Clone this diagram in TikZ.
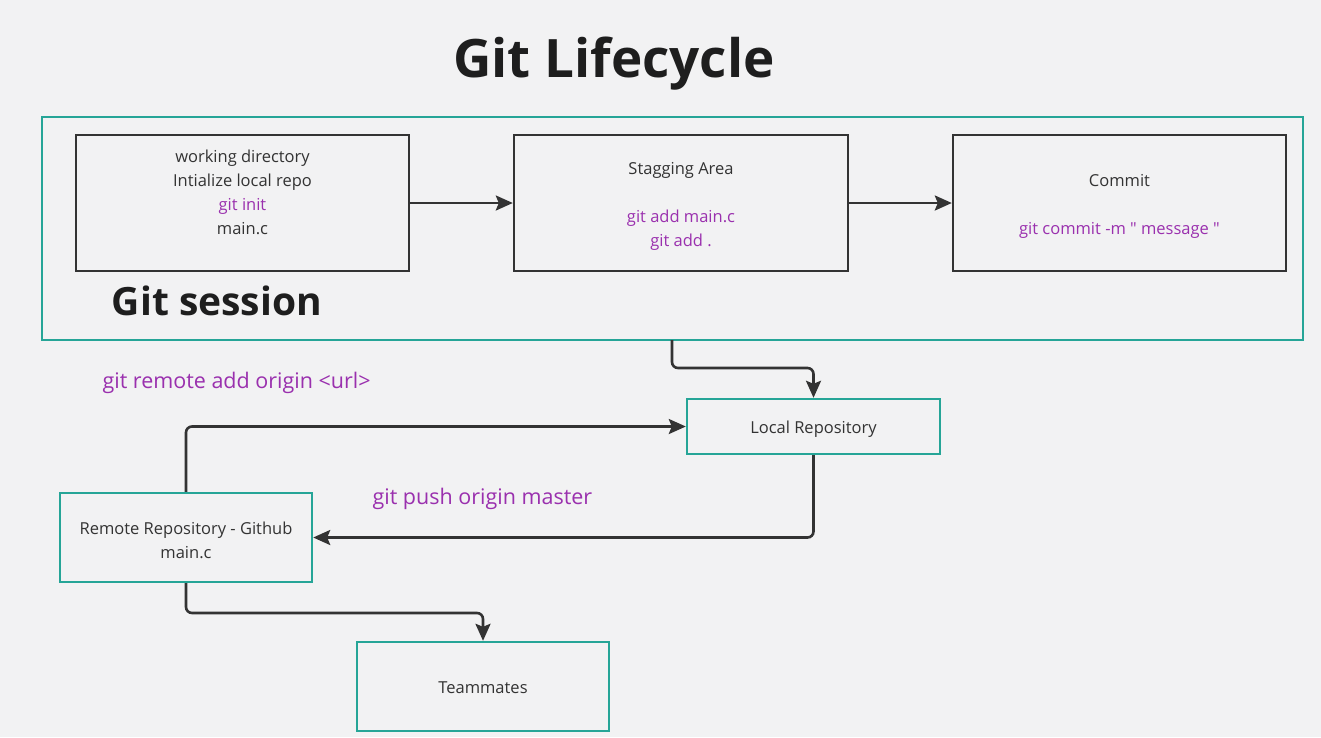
\documentclass[tikz,border=0pt]{standalone}
\usepackage{fontspec}
\setmainfont{Open Sans}
\usetikzlibrary{arrows.meta}
\definecolor{bgc}{HTML}{F2F2F3}
\definecolor{teal1}{HTML}{26A597}
\definecolor{purp}{HTML}{9A30AE}
\definecolor{ink}{HTML}{333333}
\definecolor{head}{HTML}{1E1E1E}
\tikzset{
  x=1pt, y=-1pt,
  darkbox/.style={draw=ink, line width=2.4pt, inner sep=0pt},
  tealbox/.style={draw=teal1, line width=2.4pt, inner sep=0pt},
  boxtext/.style={text=ink, align=center, font=\fontsize{16.5}{24}\selectfont},
  conn/.style={draw=ink, line width=2.6pt, rounded corners=6pt, -{Stealth[length=17pt,width=15pt,inset=3pt]}},
  cmd/.style={text=purp},
}
\begin{document}
\begin{tikzpicture}
\fill[bgc] (0,0) rectangle (1321,737);
\useasboundingbox (0,0) rectangle (1321,737);

\node[text=head, font=\fontsize{53}{58}\selectfont\bfseries] (title) at (614,64) {Git Lifecycle};

\node[tealbox, minimum width=1261pt, minimum height=223pt] (outer) at (672.5,228.5) {};
\node[darkbox, minimum width=333pt, minimum height=136pt] (b1) at (242.5,203) {};
\node[darkbox, minimum width=334pt, minimum height=136pt] (b2) at (681,203) {};
\node[darkbox, minimum width=333pt, minimum height=136pt] (b3) at (1119.5,203) {};

\node[boxtext] (t1) at (242.5,192) {working directory\\Intialize local repo\\\textcolor{purp}{git init}\\main.c};
\node[boxtext] (t2) at (681,206) {Stagging Area\\[24pt]\textcolor{purp}{git add main.c}\\\textcolor{purp}{git add .}};
\node[boxtext] (t3) at (1119.5,206) {Commit\\[24pt]\textcolor{purp}{\addfontfeature{Ligatures=TeXOff}git commit -m " message "}};

\node[text=head, font=\fontsize{39}{44}\selectfont\bfseries] (gs) at (217,301) {Git session};

\node[tealbox, minimum width=253pt, minimum height=55pt] (local) at (813.5,426.5) {};
\node[tealbox, minimum width=252pt, minimum height=89pt] (remote) at (186,537.5) {};
\node[tealbox, minimum width=252pt, minimum height=89pt] (team) at (483,686.5) {};
\node[boxtext] (tl) at (813.5,429) {Local Repository};
\node[boxtext] (tr) at (186,540) {Remote Repository - Github\\main.c};
\node[boxtext] (tt) at (483,688) {Teammates};

\node[cmd, font=\fontsize{21.5}{26}\selectfont, anchor=west] (l1) at (99,383) {git remote add origin <url>};
\node[cmd, font=\fontsize{21.5}{26}\selectfont, anchor=west] (l2) at (369,499) {git push origin master};

\draw[conn] (b1.east) -- (b2.west);
\draw[conn] (b2.east) -- (b3.west);
\coordinate (o1) at (672,340);
\coordinate (o2) at (672,368);
\draw[conn] (o1) -- (o2) -| (local.north);
\draw[conn] (remote.north) |- (local.west);
\draw[conn] (local.south) |- (remote.east);
\coordinate (r2) at (186,613);
\draw[conn] (remote.south) -- (r2) -| (team.north);
\end{tikzpicture}
\end{document}
